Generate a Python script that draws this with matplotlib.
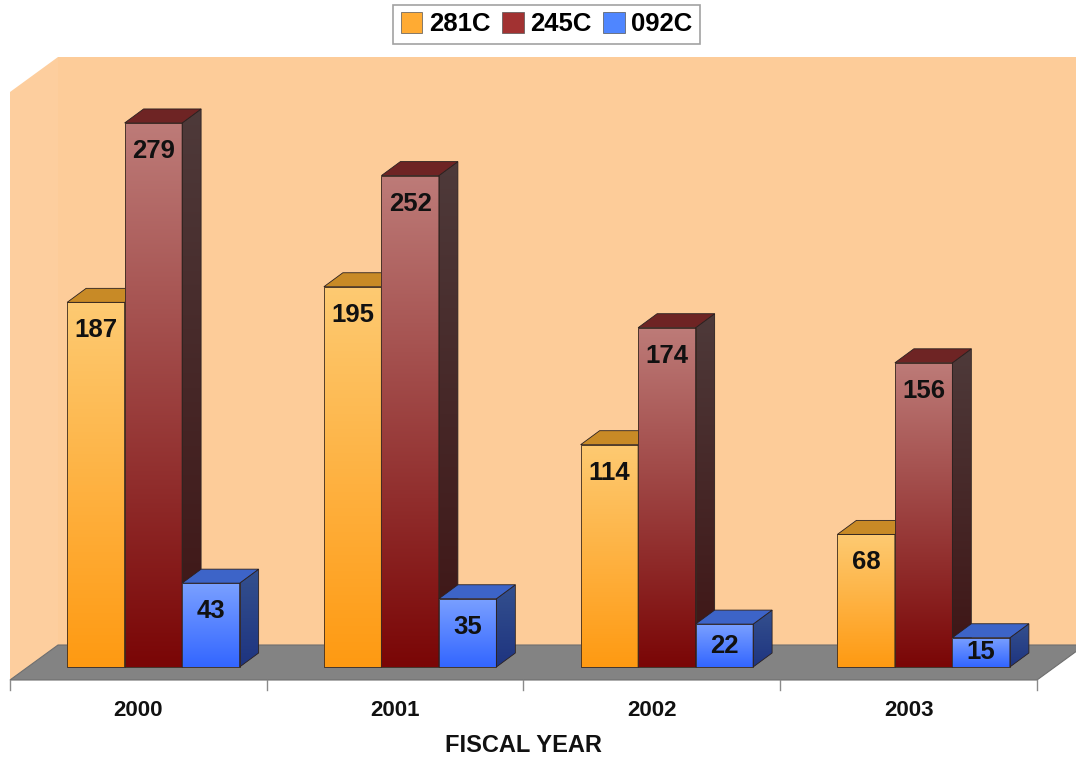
import numpy as np
import matplotlib.pyplot as plt
from matplotlib.patches import Polygon, Patch
from matplotlib.colors import to_rgb

plt.rcParams['font.family'] = ['Liberation Sans', 'DejaVu Sans']
plt.rcParams['font.weight'] = 'bold'

# --- data ---
years = ['2000', '2001', '2002', '2003']
series = ['281C', '245C', '092C']
v281 = [187, 195, 114, 68]
v245 = [279, 252, 174, 156]
v092 = [43, 35, 22, 15]
values = [v281, v245, v092]

# colours: (front top, front bottom, top face, side face top, side face bottom)
styles = [
    ('#fdca72', '#ff9a12', '#c88a26', '#a86a18', '#8a5010'),
    ('#bd7b78', '#7a0606', '#6e2424', '#4e3a3a', '#3e1414'),
    ('#7aa0ff', '#3366ff', '#3d64c8', '#34508e', '#1e3480'),
]
legend_cols = ['#ffab33', '#a23232', '#4f86ff']

# layout (pixel scale of the original picture)
W, H = 1076, 757
PX = 256.75          # px per category
PY = 1.95            # px per value unit
x0_px, base_px = 10, 667

fig = plt.figure(figsize=(W / 100, H / 100), dpi=100)
ax = fig.add_axes([0, 0, 1, 1])
ax.set_xlim(-0.5 - x0_px / PX, -0.5 + (W - x0_px) / PX)
ax.set_ylim(-(H - base_px) / PY, base_px / PY)
ax.axis('off')

# depth offsets
fdx, fdy = 48 / PX, 35 / PY     # floor / wall depth
bdx, bdy = 19 / PX, 14 / PY     # bar depth
floor_y = -13 / PY
wall_top = (base_px - 57) / PY

# walls and floor
back = Polygon([(-0.5 + fdx, floor_y + fdy), (4.2, floor_y + fdy),
                (4.2, wall_top), (-0.5 + fdx, wall_top)],
               facecolor='#fdcc99', edgecolor='none', zorder=0)
side = Polygon([(-0.5, floor_y), (-0.5 + fdx, floor_y + fdy),
                (-0.5 + fdx, wall_top), (-0.5, wall_top - fdy)],
               facecolor='#fdce9e', edgecolor='none', zorder=0)
floor = Polygon([(-0.5, floor_y), (3.5, floor_y), (3.5 + fdx, floor_y + fdy),
                 (-0.5 + fdx, floor_y + fdy)],
                facecolor='#838383', edgecolor='#6e6e6e', lw=0.8, zorder=1)
for p in (back, side, floor):
    ax.add_patch(p)

# category tick marks along the front floor edge
for xt in np.arange(-0.5, 4.0, 1.0):
    ax.plot([xt, xt], [floor_y, floor_y - 10 / PY], color='#8a8a8a', lw=1, zorder=1)


def gradient(patch, top, bot, x_lo, x_hi, y_lo, y_hi, z):
    t = np.linspace(0, 1, 128).reshape(-1, 1, 1)
    arr = np.array(to_rgb(bot)) + (np.array(to_rgb(top)) - np.array(to_rgb(bot))) * t
    im = ax.imshow(np.repeat(arr, 2, axis=1), extent=(x_lo, x_hi, y_lo, y_hi),
                   origin='lower', aspect='auto', zorder=z, interpolation='bilinear')
    im.set_clip_path(patch)


bw = 57.5 / PX
shift = 15 / PX
idx = np.arange(len(years))
z = 2
for i in idx:
    for s in range(3):
        v = values[s][i]
        ftop, fbot, tcol, stop, sbot = styles[s]
        xl = i + shift + (s - 1.5) * bw
        bars = ax.bar(xl, v, width=bw, align='edge', facecolor='none',
                      edgecolor='#3a2a20', lw=0.6, zorder=z + 0.5)
        rect = bars[0]
        gradient(rect, ftop, fbot, xl, xl + bw, 0, v, z)
        sd = Polygon([(xl + bw, 0), (xl + bw + bdx, bdy), (xl + bw + bdx, v + bdy),
                      (xl + bw, v)], facecolor='none', edgecolor='#2a2020', lw=0.6,
                     zorder=z + 0.5)
        ax.add_patch(sd)
        gradient(sd, stop, sbot, xl + bw, xl + bw + bdx, 0, v + bdy, z)
        tp = Polygon([(xl, v), (xl + bw, v), (xl + bw + bdx, v + bdy), (xl + bdx, v + bdy)],
                     facecolor=tcol, edgecolor='#2a2020', lw=0.6, zorder=z + 0.5)
        ax.add_patch(tp)
        off = min(28 / PY, v / 2)
        ax.text(xl + bw / 2, v - off, str(v), ha='center', va='center',
                fontsize=18.5, fontweight='bold', color='#111111', zorder=50)
        z += 1

# category labels and axis title
for i in idx:
    ax.text(i, -(710 - base_px) / PY, years[i], ha='center', va='center',
            fontsize=16, fontweight='bold', color='#111111')
ax.text(1.5, -(745 - base_px) / PY, 'FISCAL YEAR', ha='center', va='center',
        fontsize=17, fontweight='bold', color='#111111')

handles = [Patch(facecolor=c, edgecolor='#555555', lw=0.5) for c in legend_cols]
leg = fig.legend(handles, series, loc='upper center', bbox_to_anchor=(0.508, 0.994),
                 ncol=3, frameon=True, fancybox=False, handlelength=0.85,
                 handleheight=0.85, handletextpad=0.25, columnspacing=0.45,
                 borderpad=0.3, borderaxespad=0,
                 prop={'weight': 'bold', 'size': 18.5})
leg.get_frame().set_edgecolor('#8a8a8a')
leg.get_frame().set_linewidth(1.2)

fig.savefig('out.png', dpi=100)
